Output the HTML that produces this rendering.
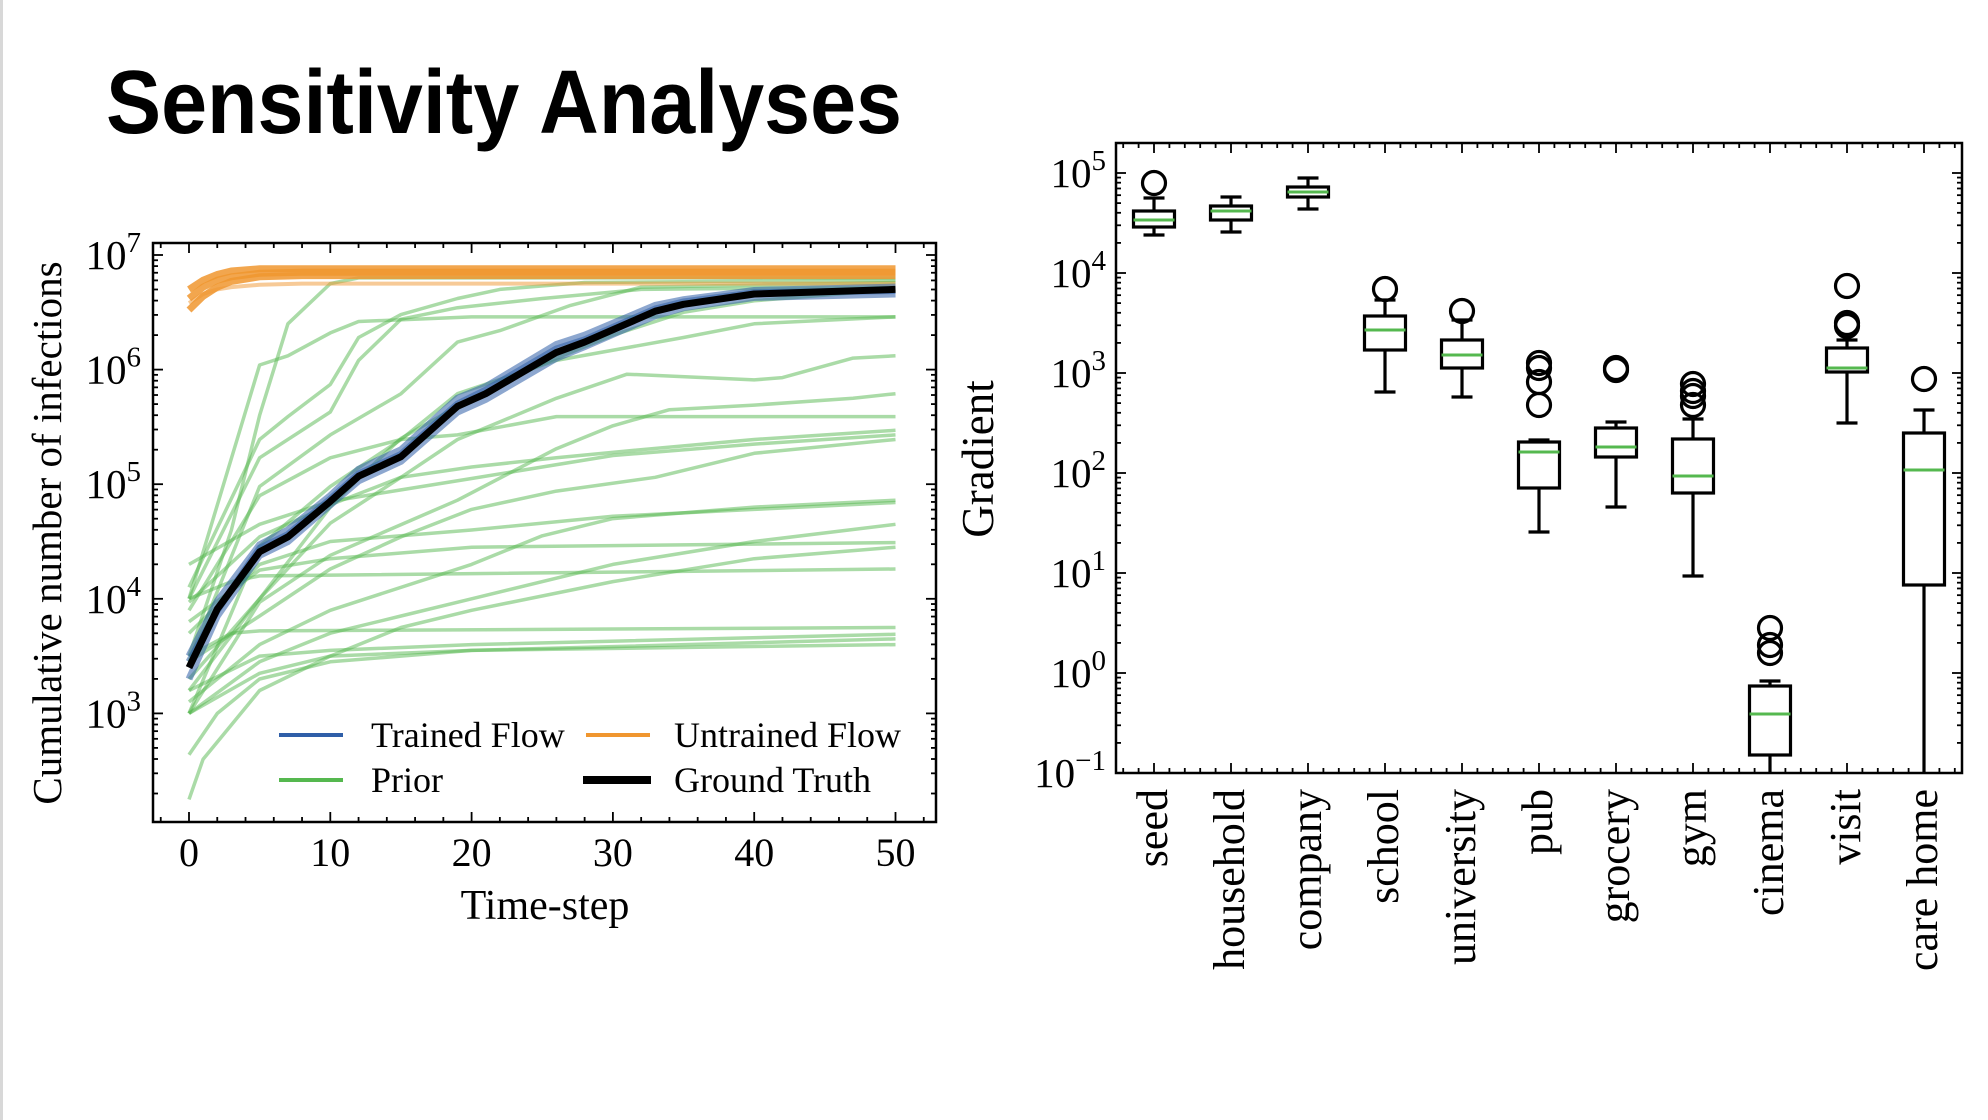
<!DOCTYPE html>
<html><head><meta charset="utf-8"><style>
body{margin:0;background:#fff}
svg{display:block}
text{font-family:"Liberation Serif",serif;fill:#000}
</style></head><body>
<svg id="s" width="1988" height="1120" viewBox="0 0 1988 1120" xmlns="http://www.w3.org/2000/svg">
<rect x="0" y="0" width="1988" height="1120" fill="#fff"/>
<rect x="0" y="0" width="3" height="1120" fill="#d8d8d8"/>
<text x="106" y="133" font-size="90" font-weight="bold" textLength="796" lengthAdjust="spacingAndGlyphs" style="font-family:'Liberation Sans',sans-serif">Sensitivity Analyses</text>
<g id="left"></g>
<g id="right"></g>
</svg>
<script>
// ---------- Left chart data (log10 values) ----------
const gtT   = [0,2,5,7,10,12,15,19,21,26,28,33,35,40,50];
const gtV   = [3.40,3.91,4.41,4.54,4.85,5.07,5.24,5.68,5.79,6.15,6.24,6.51,6.57,6.66,6.70];
const blue1 = [3.30,3.85,4.38,4.50,4.82,5.03,5.20,5.63,5.74,6.10,6.20,6.47,6.54,6.63,6.66];
const blue2 = [3.50,3.98,4.47,4.60,4.90,5.13,5.30,5.75,5.85,6.22,6.30,6.56,6.61,6.69,6.72];
const blue3 = [3.45,3.90,4.44,4.56,4.87,5.09,5.26,5.70,5.82,6.18,6.26,6.53,6.59,6.67,6.69];
const orT   = [0,1,2,3,5,8,50];
const orange1 = [6.70,6.78,6.83,6.86,6.88,6.88,6.88];
const orange2 = [6.62,6.72,6.78,6.81,6.84,6.85,6.85];
const orange3 = [6.52,6.64,6.72,6.77,6.81,6.82,6.82];
const orange4 = [6.58,6.66,6.70,6.72,6.74,6.75,6.75];
const priorT = [
 [0,3,5,7,10,12,50],
 [0,5,7,10,12,20,50],
 [0,5,7,10,12,15,19,22,28,50],
 [0,5,10,12,15,19,25,32,50],
 [0,5,10,15,19,22,27,32,50],
 [0,5,10,15,19,26,35,40,50],
 [0,5,10,15,19,26,31,40,42,47,50],
 [0,5,10,19,26,30,34,40,47,50],
 [0,5,10,15,19,26,33,50],
 [0,5,10,15,20,26,31,40,50],
 [0,5,10,15,20,26,33,40,50],
 [0,5,10,15,20,30,40,50],
 [0,5,10,20,30,40,50],
 [0,5,10,20,25,30,40,50],
 [0,5,10,15,20,30,40,50],
 [0,5,10,20,50],
 [0,3,5,50],
 [0,3,5,50],
 [0,5,10,20,50],
 [0,5,10,20,50],
 [0,2,5,10,20,50],
 [0,1,3,5,10,15,20,30,40,50],
 [0,5,10,12,15,20,25,30,35,40,50]
];
const priorV = [
 [3.50,4.60,5.60,6.40,6.75,6.80,6.80],
 [4.00,6.04,6.12,6.32,6.42,6.46,6.46],
 [4.10,5.39,5.59,5.87,6.28,6.48,6.62,6.70,6.76,6.78],
 [4.00,5.23,5.63,6.08,6.44,6.54,6.62,6.70,6.72],
 [3.45,4.98,5.43,5.79,6.24,6.34,6.56,6.72,6.76],
 [3.00,4.46,4.98,5.39,5.79,6.08,6.28,6.40,6.46],
 [3.20,4.00,4.66,5.06,5.39,5.75,5.96,5.91,5.93,6.10,6.12],
 [3.00,3.97,4.38,4.86,5.31,5.51,5.65,5.69,5.75,5.79],
 [3.90,4.90,5.23,5.39,5.43,5.59,5.59,5.59],
 [3.97,4.54,4.82,5.06,5.15,5.23,5.29,5.39,5.47],
 [3.45,3.85,4.26,4.54,4.78,4.94,5.06,5.27,5.39],
 [4.30,4.65,4.85,4.95,5.05,5.25,5.35,5.43],
 [3.70,4.30,4.50,4.60,4.72,4.78,4.84],
 [3.10,3.60,3.90,4.30,4.55,4.70,4.80,4.86],
 [3.00,3.45,3.70,3.85,4.00,4.30,4.50,4.65],
 [3.80,4.25,4.35,4.45,4.49],
 [4.00,4.15,4.20,4.26],
 [3.50,3.70,3.72,3.75],
 [3.20,3.50,3.55,3.60,3.69],
 [3.00,3.35,3.50,3.55,3.65],
 [2.64,3.00,3.30,3.45,3.55,3.60],
 [2.25,2.60,2.90,3.20,3.50,3.75,3.90,4.15,4.35,4.45],
 [3.30,4.00,4.80,5.05,5.40,5.75,6.05,6.30,6.50,6.60,6.70]
];
const xTicks = [0,10,20,30,40,50];
const yTicksL = [3,4,5,6,7];

// ---------- Right chart data (log10 values) ----------
const cats = ["seed","household","company","school","university","pub","grocery","gym","cinema","visit","care home"];
const wLo  = [4.38,4.41,4.64,2.81,2.76,1.41,1.66,0.97,-1.5,2.50,-2.0];
const q1   = [4.46,4.53,4.76,3.23,3.05,1.85,2.16,1.80,-0.82,3.01,0.88];
const med  = [4.53,4.62,4.81,3.43,3.18,2.21,2.26,1.97,-0.41,3.05,2.03];
const q3   = [4.62,4.67,4.86,3.57,3.33,2.31,2.45,2.34,-0.13,3.25,2.40];
const wHi  = [4.75,4.76,4.95,3.73,3.53,2.33,2.51,2.54,-0.08,3.33,2.63];
const fliers = [[4.90],[],[],[3.84],[3.62],[2.68,2.91,3.05,3.10],[3.03,3.05],[2.68,2.77,2.82,2.89],[0.20,0.28,0.45],[3.47,3.50,3.87],[2.94]];
const yTicksR = [-1,0,1,2,3,4,5];

const NS="http://www.w3.org/2000/svg";
function mk(tag, attrs, parent){const e=document.createElementNS(NS,tag);for(const k in attrs)e.setAttribute(k,attrs[k]);parent.appendChild(e);return e;}

// ---------- Left chart ----------
const L = document.getElementById('left');
const lx0=153, lx1=936, ly0=243, ly1=822;
const xL = t => 189 + t*14.13;
const yL = v => 255 + (7 - v)*114.6;
mk('rect',{x:lx0,y:ly0,width:lx1-lx0,height:ly1-ly0,fill:'#fff'},L);
const clipL = mk('clipPath',{id:'cl'},L);
mk('rect',{x:lx0,y:ly0,width:lx1-lx0,height:ly1-ly0},clipL);
const plotL = mk('g',{'clip-path':'url(#cl)'},L);
function pathOf(ts,vs){return ts.map((t,i)=>(i?'L':'M')+xL(t).toFixed(1)+','+yL(vs[i]).toFixed(1)).join(' ');}
priorT.forEach((ts,i)=>{
  const p = mk('path',{d:pathOf(ts,priorV[i]),fill:'none',stroke:'#55b84f','stroke-opacity':0.5,'stroke-width':3.5,'stroke-linejoin':'round'},plotL);
  
  
});
[orange1,orange2,orange3].forEach(v=>{
  const p = mk('path',{d:pathOf(orT,v),fill:'none',stroke:'#f0962f','stroke-opacity':0.85,'stroke-width':7},plotL);
  
  
});
{
  const p = mk('path',{d:pathOf(orT,orange4),fill:'none',stroke:'#f0962f','stroke-opacity':0.5,'stroke-width':4},plotL);
  
  
}
[blue1,blue2,blue3].forEach(v=>{
  const p = mk('path',{d:pathOf(gtT,v),fill:'none',stroke:'#2f5fa8','stroke-opacity':0.55,'stroke-width':7},plotL);
  
  
});
{
  const p = mk('path',{d:pathOf(gtT,gtV),fill:'none',stroke:'#000','stroke-width':7,'stroke-linejoin':'round'},plotL);
  
  
}
mk('rect',{x:lx0,y:ly0,width:lx1-lx0,height:ly1-ly0,fill:'none',stroke:'#000','stroke-width':2.5},L);
for(let t=-2;t<=52;t+=2){
  const X=xL(t); if(X<lx0||X>lx1)continue;
  const len = t%10===0?10:5;
  mk('line',{x1:X,y1:ly1,x2:X,y2:ly1-len,stroke:'#000','stroke-width':1.8},L);
  mk('line',{x1:X,y1:ly0,x2:X,y2:ly0+len,stroke:'#000','stroke-width':1.8},L);
}
xTicks.forEach(t=>{
  const e = mk('text',{x:xL(t),y:866,'font-size':40,'text-anchor':'middle'},L);
  e.textContent=t;
  
  
});
for(let d=2;d<=7;d++){
  for(let m=1;m<=9;m++){
    const v=d+Math.log10(m); const Y=yL(v);
    if(Y<ly0||Y>ly1)continue;
    const len=m===1?10:5;
    mk('line',{x1:lx0,y1:Y,x2:lx0+len,y2:Y,stroke:'#000','stroke-width':1.8},L);
    mk('line',{x1:lx1,y1:Y,x2:lx1-len,y2:Y,stroke:'#000','stroke-width':1.8},L);
  }
}
yTicksL.forEach(d=>{
  const e = mk('text',{x:141,y:yL(d)+14,'font-size':41,'text-anchor':'end'},L);
  e.innerHTML='10<tspan dy="-17" font-size="29">'+d+'</tspan>';
  
  
});
{
  const e = mk('text',{x:545,y:919,'font-size':42,'text-anchor':'middle'},L);
  e.textContent='Time-step';
  
  
  const f = mk('text',{x:0,y:0,'font-size':41,'text-anchor':'middle',transform:'translate(61,533) rotate(-90)'},L);
  f.textContent='Cumulative number of infections';
  
  
}
const leg = mk('g',{},L);


[[279,343,735,'#2f5fa8',4,'Trained Flow',371],[586,650,735,'#f0962f',4,'Untrained Flow',674],[279,343,780,'#55b84f',4,'Prior',371],[583,651,780,'#000',8,'Ground Truth',674]].forEach(a=>{
  const g = mk('g',{},leg);
  
  
  mk('line',{x1:a[0],y1:a[2],x2:a[1],y2:a[2],stroke:a[3],'stroke-width':a[4]},g);
  const t = mk('text',{x:a[6],y:a[2]+12,'font-size':36},g);
  t.textContent=a[5];
});

// ---------- Right chart ----------
const R = document.getElementById('right');
const rx0=1116, rx1=1962, ry0=143, ry1=773;
const xR = i => 1154 + i*77;
const yR = v => 173 + (5 - v)*100;
const clipR = mk('clipPath',{id:'cr'},R);
mk('rect',{x:rx0,y:ry0,width:rx1-rx0,height:ry1-ry0},clipR);
const plotR = mk('g',{'clip-path':'url(#cr)'},R);
cats.forEach((c,i)=>{
  const g = mk('g',{},plotR);
  
  
  const X=xR(i), hw=20.5, cw=10.5;
  mk('line',{x1:X,y1:yR(wLo[i]),x2:X,y2:yR(q1[i]),stroke:'#000','stroke-width':3.2},g);
  mk('line',{x1:X,y1:yR(q3[i]),x2:X,y2:yR(wHi[i]),stroke:'#000','stroke-width':3.2},g);
  mk('line',{x1:X-cw,y1:yR(wLo[i]),x2:X+cw,y2:yR(wLo[i]),stroke:'#000','stroke-width':3.2},g);
  mk('line',{x1:X-cw,y1:yR(wHi[i]),x2:X+cw,y2:yR(wHi[i]),stroke:'#000','stroke-width':3.2},g);
  mk('rect',{x:X-hw,y:yR(q3[i]),width:2*hw,height:yR(q1[i])-yR(q3[i]),fill:'none',stroke:'#000','stroke-width':3.2},g);
  mk('line',{x1:X-hw,y1:yR(med[i]),x2:X+hw,y2:yR(med[i]),stroke:'#55b84f','stroke-width':3},g);
  fliers[i].forEach(v=>{
    const c2 = mk('circle',{cx:X,cy:yR(v),r:11.5,fill:'none',stroke:'#000','stroke-width':3.2},g);
    
    
  });
  const t = mk('text',{x:0,y:0,'font-size':44,'text-anchor':'end',transform:'translate('+(X+13)+',789) rotate(-90)'},R);
  t.textContent=c;
  
  
});
mk('rect',{x:rx0,y:ry0,width:rx1-rx0,height:ry1-ry0,fill:'none',stroke:'#000','stroke-width':2.5},R);
for(let k=-2;k<=52;k++){
  const X=xR(k/5); if(X<rx0||X>rx1)continue;
  const len=k%5===0?10:5;
  mk('line',{x1:X,y1:ry1,x2:X,y2:ry1-len,stroke:'#000','stroke-width':1.8},R);
  mk('line',{x1:X,y1:ry0,x2:X,y2:ry0+len,stroke:'#000','stroke-width':1.8},R);
}
for(let d=-1;d<=5;d++){
  for(let m=1;m<=9;m++){
    const Y=yR(d+Math.log10(m)); if(Y<ry0||Y>ry1)continue;
    const len=m===1?10:5;
    mk('line',{x1:rx0,y1:Y,x2:rx0+len,y2:Y,stroke:'#000','stroke-width':1.8},R);
    mk('line',{x1:rx1,y1:Y,x2:rx1-len,y2:Y,stroke:'#000','stroke-width':1.8},R);
  }
}
yTicksR.forEach(d=>{
  const e = mk('text',{x:1106,y:yR(d)+14,'font-size':41,'text-anchor':'end'},R);
  e.innerHTML='10<tspan dy="-17" font-size="29">'+(d<0?'\u2212'+(-d):d)+'</tspan>';
  
  
});
{
  const f = mk('text',{x:0,y:0,'font-size':45,'text-anchor':'middle',transform:'translate(993,459) rotate(-90)'},R);
  f.textContent='Gradient';
  
  
}
</script>
</body></html>
